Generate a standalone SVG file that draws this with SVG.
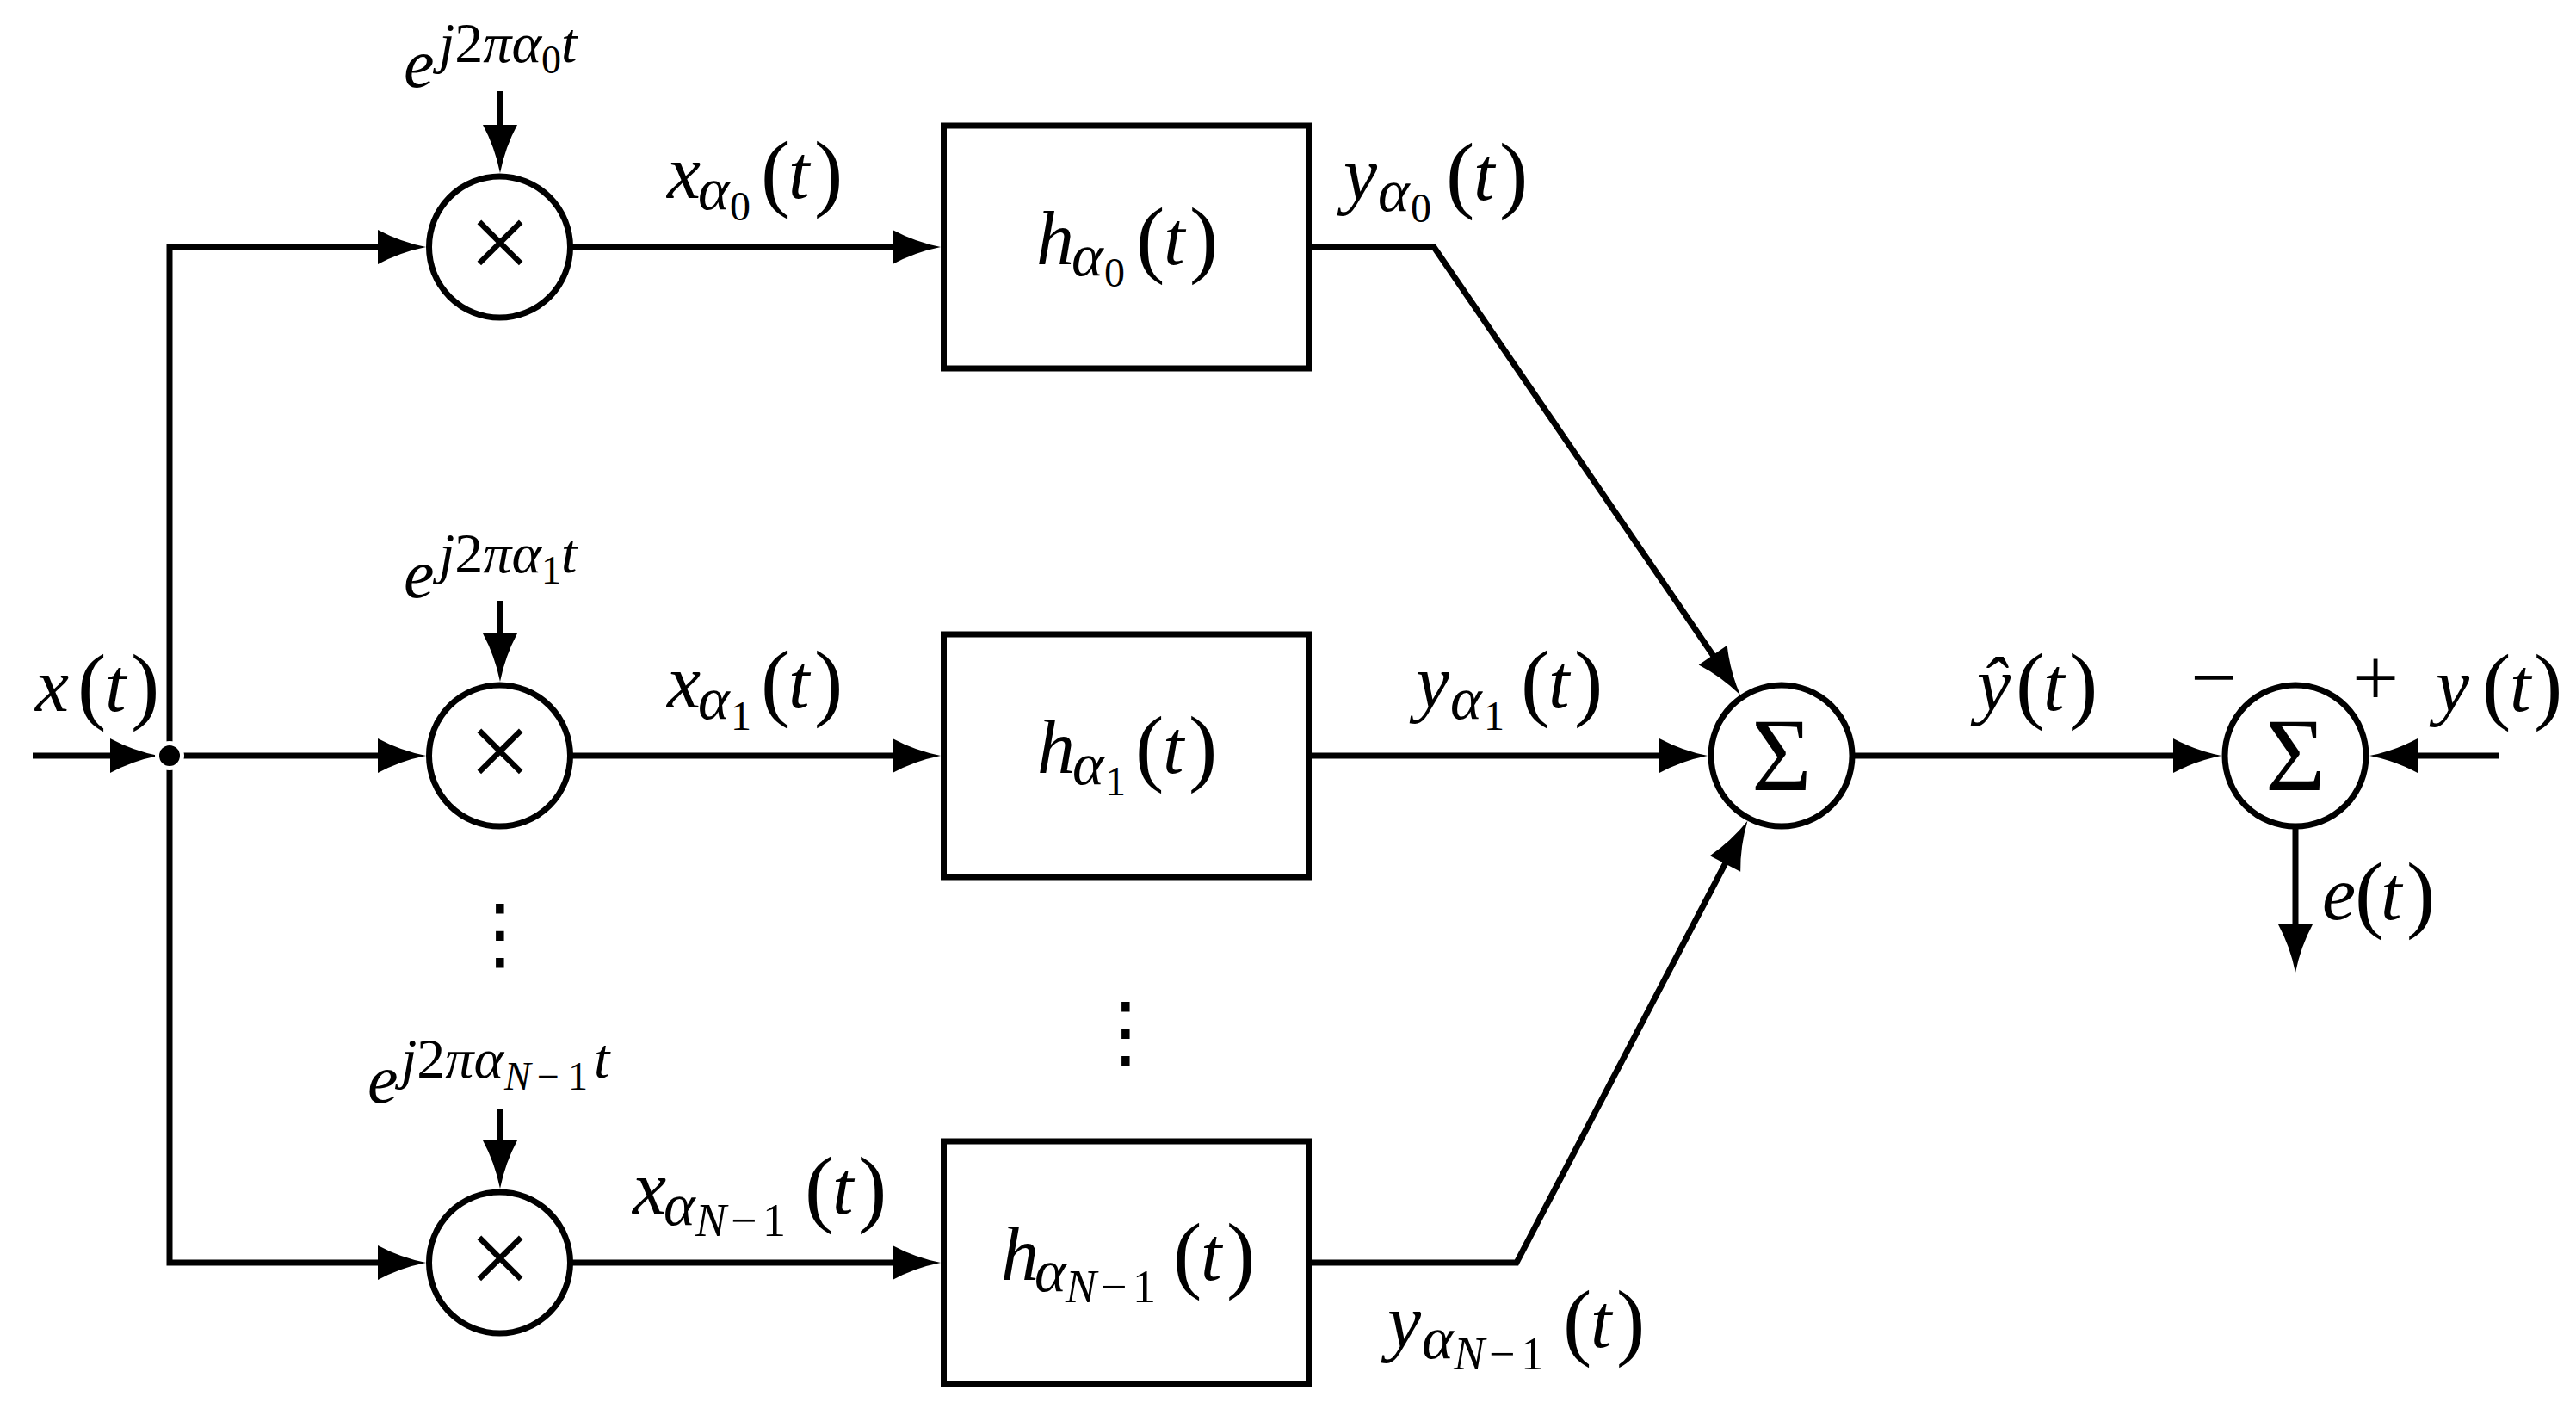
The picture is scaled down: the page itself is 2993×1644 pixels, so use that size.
<svg xmlns="http://www.w3.org/2000/svg" width="2993" height="1644" viewBox="0 0 2993 1644">
<style>
text{font-family:"Liberation Serif","Times New Roman",serif;fill:#000}
.m{font-style:italic;font-size:88px}
.u{font-style:normal}
.p{font-style:normal;font-size:100px}
.s{font-size:70px}
.ss{font-size:48px}
.sn{font-size:54px}
.ex{font-style:italic;font-size:80px}
.sp{font-size:66px}
.sps{font-size:46px}
.op{font-style:normal;font-size:130px;text-anchor:middle}
.sig{font-style:normal;font-size:120px;text-anchor:middle}
.pm{font-style:normal;font-size:96px}
.vd{font-family:"DejaVu Serif","DejaVu Sans",serif;font-size:92px;text-anchor:middle}
.ln{fill:none;stroke:#000;stroke-width:7;stroke-linejoin:miter}
.ar{marker-end:url(#ah)}
.nd{fill:#fff;stroke:#000;stroke-width:7}
</style>
<defs>
<marker id="ah" markerUnits="userSpaceOnUse" markerWidth="70" markerHeight="50" viewBox="-60 -25 70 50" refX="-30" refY="0" orient="auto">
<path d="M0,0 Q-30,-6 -56,-20 L-56,20 Q-30,6 0,0 Z" fill="#000"/>
</marker>
</defs>
<rect width="2993" height="1644" fill="#fff"/>
<g id="connectors">
<path class="ln ar" d="M38,878 H154"/>
<path class="ln ar" d="M197,878 V287 H465"/>
<path class="ln ar" d="M197,878 V1467 H465"/>
<path class="ln ar" d="M197,878 H465"/>
<path class="ln ar" d="M581,106 V171"/>
<path class="ln ar" d="M581,698 V762"/>
<path class="ln ar" d="M581,1288 V1351"/>
<path class="ln ar" d="M662,287 H1063"/>
<path class="ln ar" d="M662,878 H1063"/>
<path class="ln ar" d="M662,1467 H1063"/>
<path class="ln ar" d="M1521,287 H1666 L2004.9,782.6"/>
<path class="ln ar" d="M1521,878 H1954"/>
<path class="ln ar" d="M1521,1467 H1762 L2016.5,980.4"/>
<path class="ln ar" d="M2152,878 H2551"/>
<path class="ln ar" d="M2904,878 H2783"/>
<path class="ln ar" d="M2667,960 V1100"/>
</g>
<g id="junction">
<circle cx="197" cy="878" r="17" fill="#fff"/>
<circle cx="197" cy="878" r="12" fill="#000"/>
</g>
<g id="mult0"><circle class="nd" cx="580.5" cy="287" r="82"/><text class="op" x="581" y="325">×</text></g>
<g id="mult1"><circle class="nd" cx="580.5" cy="878" r="82"/><text class="op" x="581" y="916">×</text></g>
<g id="multN"><circle class="nd" cx="580.5" cy="1467" r="82"/><text class="op" x="581" y="1505">×</text></g>
<g id="filter0"><rect class="nd" x="1096.5" y="146" width="424" height="282"/>
<text class="m" y="307"><tspan x="1204">h</tspan><tspan class="s" x="1245" y="320">α</tspan><tspan class="ss u" x="1283" y="333">0</tspan><tspan class="p" x="1320" y="310">(</tspan><tspan x="1352" y="307">t</tspan><tspan class="p" x="1382" y="310">)</tspan></text></g>
<g id="filter1"><rect class="nd" x="1096.5" y="737" width="424" height="282"/>
<text class="m" y="898"><tspan x="1205">h</tspan><tspan class="s" x="1246" y="911">α</tspan><tspan class="ss u" x="1284" y="924">1</tspan><tspan class="p" x="1319" y="901">(</tspan><tspan x="1351" y="898">t</tspan><tspan class="p" x="1381" y="901">)</tspan></text></g>
<g id="filterN"><rect class="nd" x="1096.5" y="1326" width="424" height="282"/>
<text class="m" y="1487"><tspan x="1163">h</tspan><tspan class="s" x="1202" y="1500">α</tspan><tspan class="sn" x="1238" y="1513">N</tspan><tspan class="sn u" x="1279" y="1513">−</tspan><tspan class="sn u" x="1316" y="1513">1</tspan><tspan class="p" x="1363" y="1490">(</tspan><tspan x="1395" y="1487">t</tspan><tspan class="p" x="1425" y="1490">)</tspan></text></g>
<g id="sum1"><circle class="nd" cx="2070" cy="878" r="82"/><text class="sig" x="2070" y="918">Σ</text></g>
<g id="sum2"><circle class="nd" cx="2667" cy="878" r="82"/><text class="sig" x="2667" y="918">Σ</text></g>
<g id="labels">
<text class="m" y="826"><tspan x="41">x</tspan><tspan class="p" x="90" y="829">(</tspan><tspan x="122" y="826">t</tspan><tspan class="p" x="152" y="829">)</tspan></text>
<text class="m" y="230"><tspan x="775">x</tspan><tspan class="s" x="811" y="243">α</tspan><tspan class="ss u" x="848" y="256">0</tspan><tspan class="p" x="884" y="233">(</tspan><tspan x="916" y="230">t</tspan><tspan class="p" x="946" y="233">)</tspan></text>
<text class="m" y="822"><tspan x="775">x</tspan><tspan class="s" x="811" y="835">α</tspan><tspan class="ss u" x="849" y="848">1</tspan><tspan class="p" x="884" y="825">(</tspan><tspan x="916" y="822">t</tspan><tspan class="p" x="946" y="825">)</tspan></text>
<text class="m" y="1410"><tspan x="735">x</tspan><tspan class="s" x="771" y="1423">α</tspan><tspan class="sn" x="808" y="1436">N</tspan><tspan class="sn u" x="849" y="1436">−</tspan><tspan class="sn u" x="886" y="1436">1</tspan><tspan class="p" x="935" y="1413">(</tspan><tspan x="967" y="1410">t</tspan><tspan class="p" x="997" y="1413">)</tspan></text>
<text class="m" y="232"><tspan x="1561">y</tspan><tspan class="s" x="1601" y="245">α</tspan><tspan class="ss u" x="1639" y="258">0</tspan><tspan class="p" x="1680" y="235">(</tspan><tspan x="1712" y="232">t</tspan><tspan class="p" x="1742" y="235">)</tspan></text>
<text class="m" y="822"><tspan x="1645">y</tspan><tspan class="s" x="1685" y="835">α</tspan><tspan class="ss u" x="1724" y="848">1</tspan><tspan class="p" x="1767" y="825">(</tspan><tspan x="1799" y="822">t</tspan><tspan class="p" x="1829" y="825">)</tspan></text>
<text class="m" y="1565"><tspan x="1612">y</tspan><tspan class="s" x="1652" y="1578">α</tspan><tspan class="sn" x="1689" y="1591">N</tspan><tspan class="sn u" x="1730" y="1591">−</tspan><tspan class="sn u" x="1767" y="1591">1</tspan><tspan class="p" x="1816" y="1568">(</tspan><tspan x="1848" y="1565">t</tspan><tspan class="p" x="1878" y="1568">)</tspan></text>
<text class="m" y="825"><tspan x="2297">ŷ</tspan><tspan class="p" x="2342" y="828">(</tspan><tspan x="2374" y="825">t</tspan><tspan class="p" x="2404" y="828">)</tspan></text>
<text class="pm" x="2545" y="819">−</text>
<text class="pm" x="2733" y="819">+</text>
<text class="m" y="826"><tspan x="2830">y</tspan><tspan class="p" x="2884" y="829">(</tspan><tspan x="2916" y="826">t</tspan><tspan class="p" x="2944" y="829">)</tspan></text>
<text class="m" y="1068"><tspan x="2698">e</tspan><tspan class="p" x="2736" y="1071">(</tspan><tspan x="2766" y="1068">t</tspan><tspan class="p" x="2796" y="1071">)</tspan></text>
<text class="ex" y="101"><tspan x="469">e</tspan><tspan class="sp" x="510" y="72">j</tspan><tspan class="sp u">2</tspan><tspan class="sp">π</tspan><tspan class="sp">α</tspan><tspan class="sps u" y="85">0</tspan><tspan class="sp" y="72">t</tspan></text>
<text class="ex" y="694"><tspan x="469">e</tspan><tspan class="sp" x="510" y="665">j</tspan><tspan class="sp u">2</tspan><tspan class="sp">π</tspan><tspan class="sp">α</tspan><tspan class="sps u" y="678">1</tspan><tspan class="sp" y="665">t</tspan></text>
<text class="ex" y="1281"><tspan x="427">e</tspan><tspan class="sp" x="466" y="1252">j</tspan><tspan class="sp u">2</tspan><tspan class="sp">π</tspan><tspan class="sp">α</tspan><tspan class="sps" x="586" y="1266">N</tspan><tspan class="sps u" x="624" y="1266">−</tspan><tspan class="sps u" x="660" y="1266">1</tspan><tspan class="sp" x="690" y="1252">t</tspan></text>
<text class="vd" x="581" y="1116">⋮</text>
<text class="vd" x="1308" y="1230">⋮</text>
</g>
</svg>
